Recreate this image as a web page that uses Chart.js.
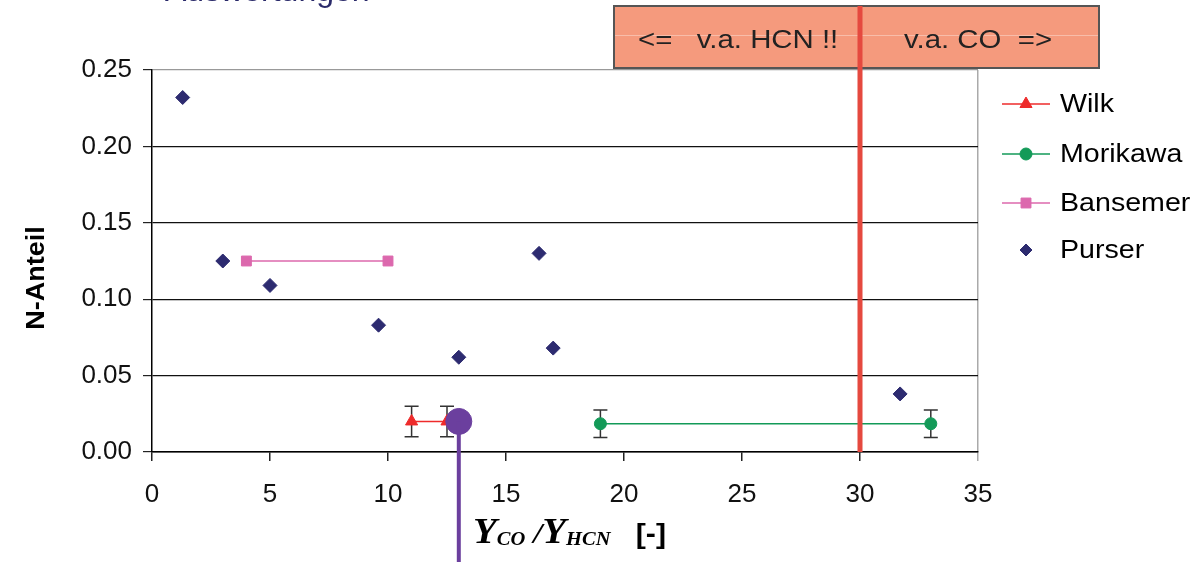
<!DOCTYPE html>
<html>
<head>
<meta charset="utf-8">
<script src="https://cdn.jsdelivr.net/npm/chart.js@4"></script>
<style>
  html, body { margin: 0; padding: 0; background: #fff; }
  canvas { display: block; }
</style>
</head>
<body>
<canvas id="chart" width="1195" height="562"></canvas>
<script>
// data
const purserX = [1.3, 3, 5, 9.6, 13, 16.4, 17, 31.7];
const purserY = [0.232, 0.125, 0.109, 0.083, 0.062, 0.130, 0.068, 0.038];

const wilkX = [11, 12.5];
const wilkY = [0.020, 0.020];
const wilkErr = [0.010, 0.010];

const morikawaX = [19, 33];
const morikawaY = [0.0185, 0.0185];
const morikawaErr = [0.009, 0.009];

const bansemerX = [4, 10];
const bansemerY = [0.125, 0.125];

const markerX = [13];
const markerY = [0.02];

const thresholdX = 30;
const boxLabels = ["<=   v.a. HCN !!", "v.a. CO  =>"];
const yTicks = [0, 0.05, 0.10, 0.15, 0.20, 0.25];
const xTicks = [0, 5, 10, 15, 20, 25, 30, 35];

const SANS = "'Liberation Sans', Arial, sans-serif";
const SERIF = "'Liberation Serif', 'Times New Roman', serif";

function pts(xs, ys) { return xs.map((x, i) => ({ x: x, y: ys[i] })); }

// the source picture is a bit wider than tall, so stretch drawn text a little
function wideText(ctx, text, x, y, sx) {
  ctx.save();
  ctx.translate(x, y);
  ctx.scale(sx, 1);
  ctx.fillText(text, 0, 0);
  ctx.restore();
  return ctx.measureText(text).width * sx;
}

const legendItems = [
  { label: "Wilk", color: "#ee2b2b", style: "triangle", r: 7, line: true },
  { label: "Morikawa", color: "#139a58", style: "circle", r: 6, line: true },
  { label: "Bansemer", color: "#dc68ad", style: "rect", r: 7, line: true },
  { label: "Purser", color: "#2d2b70", style: "rectRot", r: 6, line: false }
];

// error bars under the markers
const errorBars = {
  id: "errorBars",
  beforeDatasetsDraw(chart) {
    const ctx = chart.ctx, xs = chart.scales.x, ys = chart.scales.y;
    ctx.save();
    ctx.strokeStyle = "#333";
    ctx.lineWidth = 1.5;
    chart.data.datasets.forEach(ds => {
      if (!ds.err) return;
      ds.data.forEach((p, i) => {
        const px = xs.getPixelForValue(p.x);
        const top = ys.getPixelForValue(p.y + ds.err[i]);
        const bot = ys.getPixelForValue(p.y - ds.err[i]);
        ctx.beginPath();
        ctx.moveTo(px, top); ctx.lineTo(px, bot);
        ctx.moveTo(px - 7, top); ctx.lineTo(px + 7, top);
        ctx.moveTo(px - 7, bot); ctx.lineTo(px + 7, bot);
        ctx.stroke();
      });
    });
    ctx.restore();
  }
};

// red threshold line, salmon box, purple marker stem, titles, legend
const extras = {
  id: "extras",
  afterDatasetsDraw(chart) {
    const ctx = chart.ctx, xs = chart.scales.x, ys = chart.scales.y;
    const area = chart.chartArea;
    ctx.save();

    // purple stem from the marker to the bottom edge
    const mx = xs.getPixelForValue(markerX[0]);
    const my = ys.getPixelForValue(markerY[0]);
    ctx.strokeStyle = "#6b3f9e";
    ctx.lineWidth = 4;
    ctx.beginPath();
    ctx.moveTo(mx, my);
    ctx.lineTo(mx, chart.height);
    ctx.stroke();

    // box
    const tx = xs.getPixelForValue(thresholdX);
    const bl = tx - 246, br = tx + 239, bt = 6, bb = 68;
    ctx.fillStyle = "#f59a7d";
    ctx.fillRect(bl, bt, br - bl, bb - bt);
    ctx.strokeStyle = "rgba(255,255,255,0.35)";
    ctx.lineWidth = 1;
    ctx.beginPath();
    ctx.moveTo(bl, 35.5); ctx.lineTo(br, 35.5);
    ctx.stroke();
    ctx.strokeStyle = "#555";
    ctx.lineWidth = 2;
    ctx.strokeRect(bl, bt, br - bl, bb - bt);
    ctx.fillStyle = "#222";
    ctx.font = "26px " + SANS;
    ctx.textBaseline = "alphabetic";
    ctx.textAlign = "left";
    wideText(ctx, boxLabels[0], bl + 24, 48, 1.13);
    wideText(ctx, boxLabels[1], tx + 44, 48, 1.13);

    // red line
    ctx.strokeStyle = "#e5493f";
    ctx.lineWidth = 5;
    ctx.beginPath();
    ctx.moveTo(tx, bt);
    ctx.lineTo(tx, area.bottom);
    ctx.stroke();

    ctx.restore();
  },
  afterDraw(chart) {
    const ctx = chart.ctx, area = chart.chartArea;
    ctx.save();

    // cut-off heading at the top
    ctx.fillStyle = "#2a2a6a";
    ctx.font = "32px " + SANS;
    ctx.textBaseline = "alphabetic";
    ctx.textAlign = "left";
    wideText(ctx, "Auswertungen", 165, 1, 1.0);

    // y title
    ctx.save();
    ctx.translate(44, 278);
    ctx.rotate(-Math.PI / 2);
    ctx.fillStyle = "#000";
    ctx.font = "bold 25px " + SANS;
    ctx.textAlign = "center";
    ctx.scale(1.08, 1);
    ctx.fillText("N-Anteil", 0, 0);
    ctx.restore();

    // x title: Y_CO / Y_HCN [-]
    let x = 473;
    const base = 543;
    const parts = [
      ["Y", "bold italic 36px " + SERIF, 0],
      ["CO", "bold italic 19px " + SERIF, 2],
      [" /", "bold italic 30px " + SERIF, 0],
      ["Y", "bold italic 36px " + SERIF, 0],
      ["HCN", "bold italic 19px " + SERIF, 2],
      ["   [-]", "bold 28px " + SANS, 0]
    ];
    ctx.fillStyle = "#000";
    ctx.textAlign = "left";
    parts.forEach(p => {
      ctx.font = p[1];
      x += wideText(ctx, p[0], x, base + p[2], 1.08);
    });

    // legend
    const ys = [104, 154, 203, 250];
    legendItems.forEach((it, i) => {
      const y = ys[i];
      const l = area.right + 24, r = area.right + 72, c = (l + r) / 2;
      if (it.line) {
        ctx.strokeStyle = it.color;
        ctx.lineWidth = 1.5;
        ctx.beginPath();
        ctx.moveTo(l, y); ctx.lineTo(r, y);
        ctx.stroke();
      }
      ctx.fillStyle = it.color;
      ctx.strokeStyle = it.color;
      ctx.lineWidth = 1;
      Chart.helpers.drawPoint(ctx, { pointStyle: it.style, radius: it.r, borderWidth: 1 }, c, y);
      ctx.fillStyle = "#000";
      ctx.font = "26px " + SANS;
      ctx.textBaseline = "middle";
      wideText(ctx, it.label, area.right + 82, y + 1, 1.1);
    });

    ctx.restore();
  }
};

const near = (a, b) => Math.abs(a - b) < 1e-6;

new Chart(document.getElementById("chart"), {
  type: "scatter",
  data: {
    datasets: [
      {
        label: "Marker",
        data: pts(markerX, markerY),
        backgroundColor: "#6b3f9e",
        borderColor: "#6b3f9e",
        pointRadius: 13,
        pointStyle: "circle",
        clip: false,
        order: 0
      },
      {
        label: "Wilk",
        data: pts(wilkX, wilkY),
        err: wilkErr,
        showLine: true,
        borderColor: "#ee2b2b",
        backgroundColor: "#ee2b2b",
        borderWidth: 1.5,
        pointStyle: "triangle",
        pointRadius: 7,
        pointBorderWidth: 1,
        order: 1
      },
      {
        label: "Morikawa",
        data: pts(morikawaX, morikawaY),
        err: morikawaErr,
        showLine: true,
        borderColor: "#139a58",
        backgroundColor: "#139a58",
        borderWidth: 1.5,
        pointStyle: "circle",
        pointRadius: 6,
        pointBorderWidth: 1,
        order: 2
      },
      {
        label: "Bansemer",
        data: pts(bansemerX, bansemerY),
        showLine: true,
        borderColor: "#dc68ad",
        backgroundColor: "#dc68ad",
        borderWidth: 1.5,
        pointStyle: "rect",
        pointRadius: 7,
        pointBorderWidth: 1,
        order: 3
      },
      {
        label: "Purser",
        data: pts(purserX, purserY),
        borderColor: "#2d2b70",
        backgroundColor: "#2d2b70",
        pointStyle: "rectRot",
        pointRadius: 7,
        pointBorderWidth: 1,
        order: 4
      }
    ]
  },
  options: {
    responsive: false,
    animation: false,
    devicePixelRatio: 1,
    layout: { padding: { left: 0, right: 217, top: 70, bottom: 0 } },
    plugins: { legend: { display: false }, tooltip: { enabled: false } },
    scales: {
      x: {
        type: "linear",
        min: 0, max: 35,
        afterBuildTicks: s => { s.ticks = xTicks.map(v => ({ value: v })); },
        afterFit: s => { s.height = 110; },
        ticks: { font: { size: 26, family: SANS }, color: "#111", padding: 18 },
        grid: {
          color: c => (c.tick && c.tick.value === 35) ? "#aaa" : "rgba(0,0,0,0)",
          tickColor: c => (c.tick && c.tick.value === 35) ? "#aaa" : "#222",
          tickLength: 9,
          lineWidth: 1.5
        },
        border: { color: "#000", width: 1.5 }
      },
      y: {
        min: 0, max: 0.25,
        afterBuildTicks: s => { s.ticks = yTicks.map(v => ({ value: v })); },
        afterFit: s => { s.width = 152; },
        ticks: {
          font: { size: 26, family: SANS },
          color: "#111",
          padding: 11,
          callback: v => Number(v).toFixed(2)
        },
        grid: {
          color: c => (c.tick && near(c.tick.value, 0.25)) ? "#999" : "#111",
          tickColor: "#222",
          tickLength: 9,
          lineWidth: 1.2
        },
        border: { color: "#000", width: 1.5 }
      }
    }
  },
  plugins: [errorBars, extras]
});
</script>
</body>
</html>
